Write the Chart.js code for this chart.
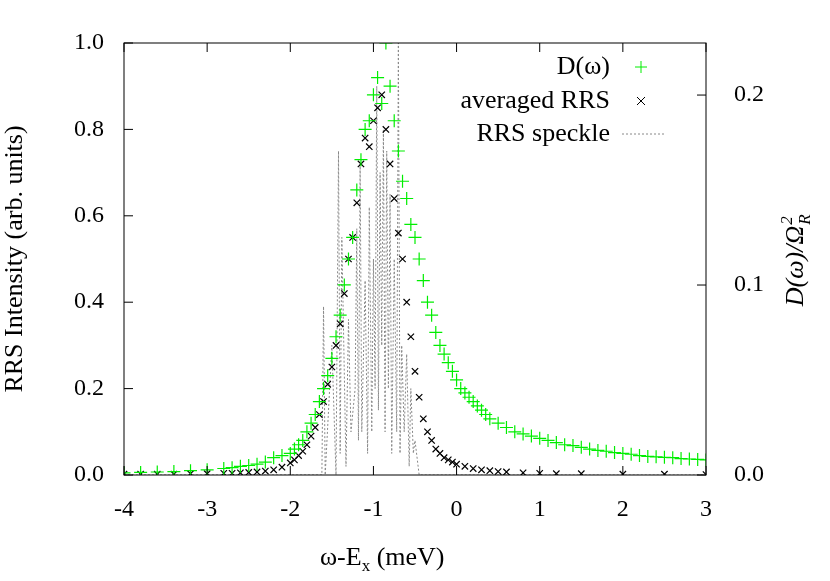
<!DOCTYPE html><html><head><meta charset="utf-8">
<script src="https://cdn.jsdelivr.net/npm/chart.js@4"></script>
<style>body{margin:0;background:#fff}#w{width:830px;height:581px}</style></head><body><div id="w"><canvas id="c"></canvas></div>
<script>
const xTicks=[-4,-3,-2,-1,0,1,2,3];
const yTicks=[0,0.2,0.4,0.6,0.8,1.0];
const y2Ticks=[0,0.1,0.2];
const dX=[-4,-3.8,-3.6,-3.4,-3.2,-3.0,-2.8,-2.7,-2.6,-2.5,-2.4,-2.3,-2.2,-2.1,-2.0,-1.95,-1.9,-1.85,-1.8,-1.75,-1.7,-1.65,-1.6,-1.55,-1.5,-1.45,-1.4,-1.35,-1.3,-1.25,-1.2,-1.15,-1.1,-1.05,-1.0,-0.95,-0.9,-0.85,-0.8,-0.75,-0.7,-0.65,-0.6,-0.55,-0.5,-0.45,-0.4,-0.35,-0.3,-0.25,-0.2,-0.15,-0.1,-0.05,0,0.05,0.1,0.15,0.2,0.25,0.3,0.35,0.4,0.5,0.6,0.7,0.8,0.9,1.0,1.1,1.2,1.3,1.4,1.5,1.6,1.7,1.8,1.9,2.0,2.1,2.2,2.3,2.4,2.5,2.6,2.7,2.8,2.9,3.0];
const dY=[0.005,0.006,0.007,0.008,0.01,0.012,0.015,0.017,0.02,0.022,0.025,0.03,0.04,0.045,0.05,0.06,0.07,0.08,0.1,0.12,0.14,0.17,0.2,0.23,0.27,0.32,0.37,0.44,0.5,0.55,0.66,0.73,0.8,0.82,0.88,0.92,0.86,1.0,0.9,0.82,0.75,0.68,0.64,0.58,0.55,0.5,0.45,0.4,0.37,0.33,0.3,0.28,0.26,0.24,0.22,0.2,0.19,0.18,0.17,0.16,0.15,0.14,0.13,0.12,0.11,0.1,0.095,0.09,0.085,0.08,0.075,0.07,0.068,0.064,0.06,0.057,0.055,0.052,0.05,0.048,0.045,0.043,0.042,0.041,0.04,0.038,0.037,0.036,0.035];
const aX=[-4,-3.8,-3.6,-3.4,-3.2,-3.0,-2.8,-2.7,-2.6,-2.5,-2.4,-2.3,-2.2,-2.1,-2.0,-1.95,-1.9,-1.85,-1.8,-1.75,-1.7,-1.65,-1.6,-1.55,-1.5,-1.45,-1.4,-1.35,-1.3,-1.25,-1.2,-1.15,-1.1,-1.05,-1.0,-0.95,-0.9,-0.85,-0.8,-0.75,-0.7,-0.65,-0.6,-0.55,-0.5,-0.45,-0.4,-0.35,-0.3,-0.25,-0.2,-0.15,-0.1,-0.05,0,0.1,0.2,0.3,0.4,0.5,0.6,0.8,1.0,1.2,1.5,2.0,2.5,3.0];
const aY=[0.002,0.002,0.002,0.002,0.003,0.003,0.004,0.004,0.005,0.006,0.007,0.009,0.012,0.018,0.028,0.035,0.045,0.055,0.07,0.09,0.11,0.14,0.17,0.21,0.25,0.3,0.35,0.42,0.5,0.55,0.63,0.72,0.78,0.76,0.82,0.85,0.88,0.8,0.72,0.64,0.56,0.5,0.4,0.32,0.24,0.18,0.13,0.1,0.08,0.06,0.05,0.04,0.035,0.03,0.025,0.02,0.015,0.012,0.01,0.008,0.007,0.005,0.004,0.003,0.003,0.002,0.002,0.001];
const sX=[-4,-1.8,-1.62,-1.6,-1.58,-1.5,-1.45,-1.42,-1.4,-1.38,-1.33,-1.3,-1.27,-1.22,-1.2,-1.18,-1.16,-1.14,-1.1,-1.07,-1.05,-1.02,-1.0,-0.98,-0.96,-0.94,-0.92,-0.9,-0.88,-0.86,-0.84,-0.82,-0.8,-0.78,-0.75,-0.72,-0.7,-0.68,-0.66,-0.63,-0.6,-0.57,-0.55,-0.52,-0.5,-0.45,3];
const sY=[0,0,0,0.39,0,0.3,0,0.75,0.05,0.55,0.02,0.36,0.1,0.2,0.57,0.08,0.72,0.1,0.45,0.05,0.62,0.1,0.5,0.2,0.9,0.15,0.7,0.3,0.8,0.1,0.75,0.2,0.65,0.05,0.5,0.1,1.0,0.05,0.3,0.1,0.28,0.02,0.2,0.05,0.08,0,0];
const labels=['D(ω)','averaged RRS','RRS speckle'];
const F='"Liberation Serif","DejaVu Serif",serif';
const pts=(xs,ys)=>xs.map((x,i)=>({x,y:ys[i]}));
const deco={id:'deco',afterDraw(c){const g=c.ctx,a=c.chartArea,sx=c.scales.x,sy=c.scales.y,s2=c.scales.y2;g.save();g.strokeStyle='#000';g.lineWidth=1;g.strokeRect(a.left,a.top,a.right-a.left,a.bottom-a.top);g.beginPath();
xTicks.forEach(t=>{const p=sx.getPixelForValue(t);g.moveTo(p,a.bottom);g.lineTo(p,a.bottom-9);g.moveTo(p,a.top);g.lineTo(p,a.top+9);});
yTicks.forEach(t=>{const p=sy.getPixelForValue(t);g.moveTo(a.left,p);g.lineTo(a.left+9,p);});
y2Ticks.forEach(t=>{const p=s2.getPixelForValue(t);g.moveTo(a.right,p);g.lineTo(a.right-9,p);});g.stroke();
g.font='26px '+F;g.textAlign='right';g.textBaseline='middle';g.fillStyle='#000';
[[67,'#00ee00','p'],[101,'#000','x'],[134,'#888','l']].forEach((r,i)=>{const y=r[0];g.fillStyle='#000';g.fillText(labels[i],610,y);g.strokeStyle=r[1];g.beginPath();
if(r[2]=='p'){g.moveTo(641,y-6);g.lineTo(641,y+6);g.moveTo(635,y);g.lineTo(647,y);g.stroke();}
else if(r[2]=='x'){g.moveTo(637,y-4);g.lineTo(645,y+4);g.moveTo(645,y-4);g.lineTo(637,y+4);g.stroke();}
else{g.setLineDash([2,2]);g.moveTo(622,y);g.lineTo(664,y);g.stroke();g.setLineDash([]);}});
g.fillStyle='#000';g.textAlign='left';g.textBaseline='alphabetic';g.font='26px '+F;
let x0=320,yb=565;g.fillText('ω-E',x0,yb);let w=g.measureText('ω-E').width;g.font='17px '+F;g.fillText('x',x0+w,yb+6);let w2=g.measureText('x').width;g.font='26px '+F;g.fillText(' (meV)',x0+w+w2,yb);
g.translate(795,259);g.rotate(-Math.PI/2);g.font='italic 26px '+F;g.textBaseline='alphabetic';
const t1='D(ω)/Ω';g.textAlign='left';let tw=g.measureText(t1).width;let st=-(tw+14)/2;g.fillText(t1,st,8);g.font='italic 17px '+F;g.fillText('2',st+tw+1,-3);g.fillText('R',st+tw+1,15);
g.restore();}};
new Chart(document.getElementById('c'),{type:'scatter',data:{datasets:[
{label:labels[2],data:pts(sX,sY),showLine:true,borderColor:'#888',borderWidth:1,borderDash:[2,2],pointRadius:0,order:3},
{label:labels[1],data:pts(aX,aY),pointStyle:'crossRot',pointRadius:4.5,borderColor:'#000',borderWidth:1.2,order:2},
{label:labels[0],data:pts(dX,dY),pointStyle:'cross',pointRadius:6.5,borderColor:'#00ee00',borderWidth:1.2,order:1}]},
options:{animation:false,responsive:true,maintainAspectRatio:false,layout:{padding:{top:43,right:0,bottom:0,left:0}},
plugins:{legend:{display:false},tooltip:{enabled:false}},
scales:{x:{type:'linear',min:-4,max:3,afterBuildTicks:s=>{s.ticks=xTicks.map(v=>({value:v}))},grid:{display:false},border:{display:false},
ticks:{color:'#000',font:{family:F,size:24},padding:12,maxRotation:0},afterFit:s=>{s.height=106}},
y:{min:0,max:1,afterBuildTicks:s=>{s.ticks=yTicks.map(v=>({value:v}))},grid:{display:false},border:{display:false},
ticks:{color:'#000',font:{family:F,size:24},padding:12,callback:v=>v.toFixed(1)},title:{display:true,text:'RRS Intensity (arb. units)',color:'#000',font:{family:F,size:26},padding:0},afterFit:s=>{s.width=124}},
y2:{position:'right',min:0,max:0.2274,afterBuildTicks:s=>{s.ticks=y2Ticks.map(v=>({value:v}))},grid:{display:false},border:{display:false},
ticks:{color:'#000',font:{family:F,size:24},padding:20,callback:v=>v.toFixed(1)},afterFit:s=>{s.width=124}}}},plugins:[deco]});
</script></body></html>
